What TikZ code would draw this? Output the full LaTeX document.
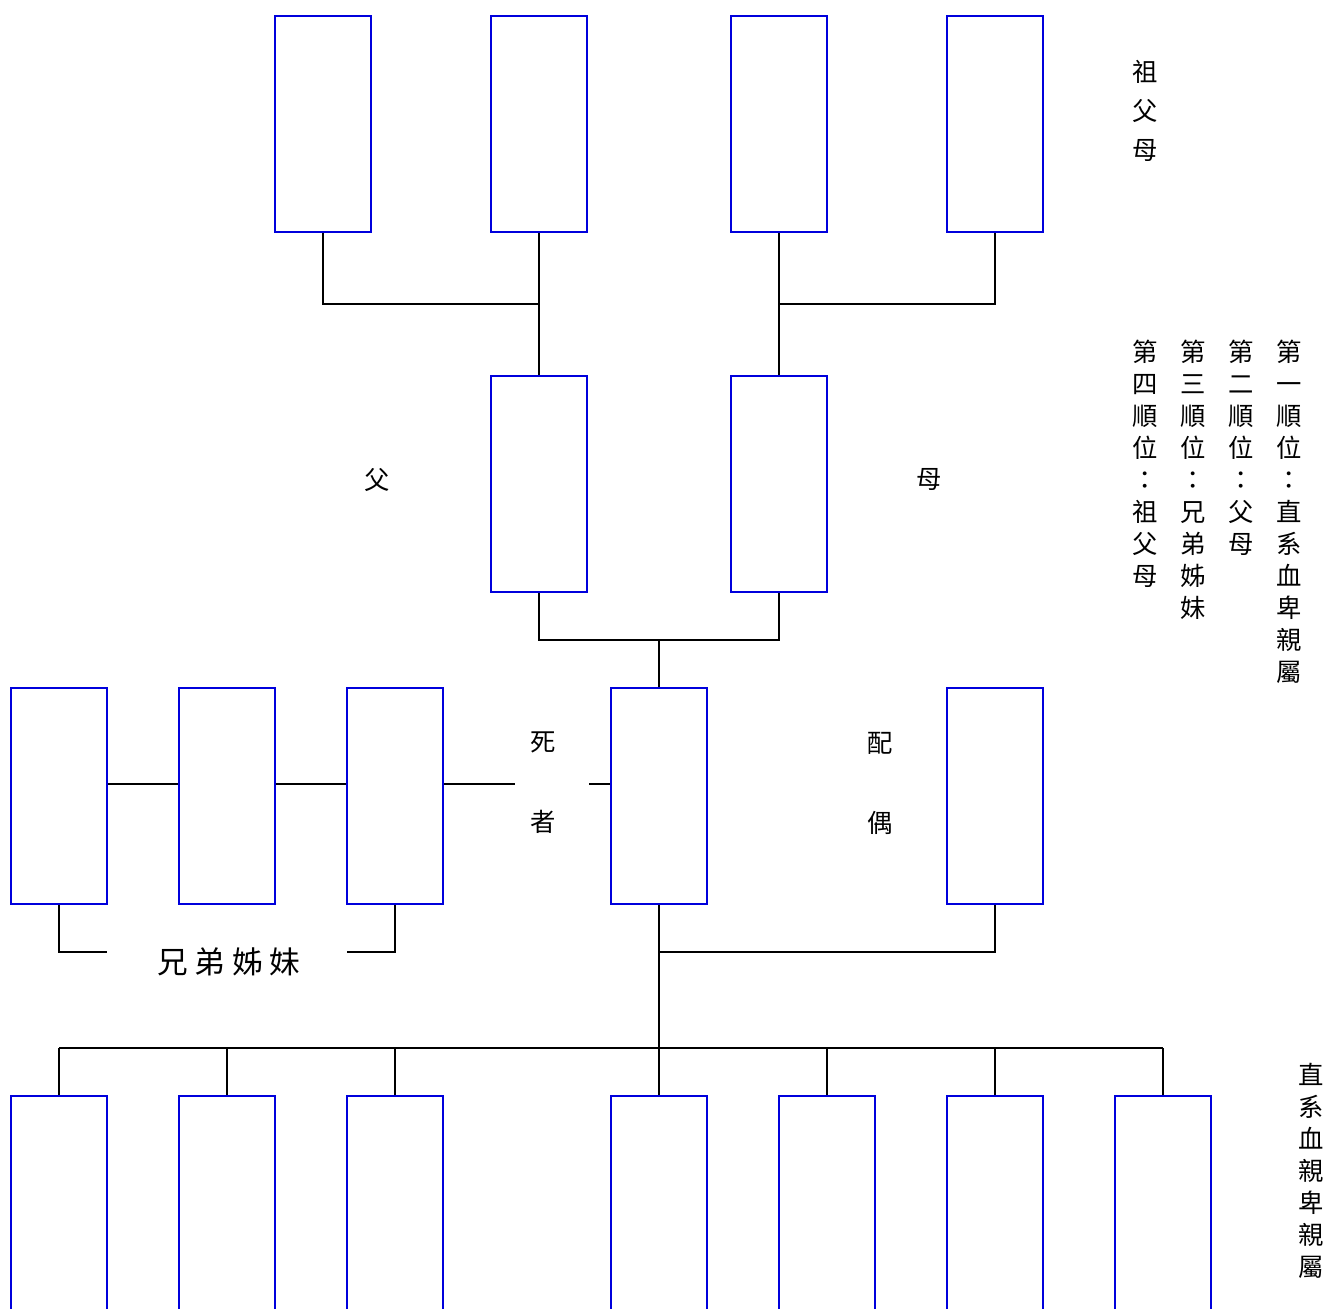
\documentclass[tikz,border=0pt]{standalone}
\usepackage{fontspec}
\newfontfamily\cjk{Noto Sans CJK TC}
\definecolor{boxblue}{RGB}{0,0,220}
\begin{document}
\begin{tikzpicture}[x=0.75pt,y=-0.75pt,
  pbox/.style={draw=boxblue,line width=1.5pt,minimum width=72pt,minimum height=162pt,inner sep=0pt},
  conn/.style={draw=black,line width=1.5pt},
  lbl/.style={font=\cjk\fontsize{19pt}{24pt}\selectfont,inner sep=0pt,align=center},
  lblw/.style={font=\cjk\fontsize{19pt}{29.25pt}\selectfont,inner sep=0pt,align=center},
  lbld/.style={font=\cjk\fontsize{19pt}{60pt}\selectfont,inner sep=0pt,align=center}]
\clip (0,0) rectangle (1329,1309);
\fill[white] (0,0) rectangle (1329,1309);
% grandparents
\node[pbox] (g1) at (323,124) {};
\node[pbox] (g2) at (539,124) {};
\node[pbox] (g3) at (779,124) {};
\node[pbox] (g4) at (995,124) {};
% parents
\node[pbox] (p1) at (539,484) {};
\node[pbox] (p2) at (779,484) {};
% siblings, deceased, spouse
\node[pbox] (s1) at (59,796) {};
\node[pbox] (s2) at (227,796) {};
\node[pbox] (s3) at (395,796) {};
\node[pbox] (dec) at (659,796) {};
\node[pbox] (sp) at (995,796) {};
% children
\node[pbox] (c1) at (59,1204) {};
\node[pbox] (c2) at (227,1204) {};
\node[pbox] (c3) at (395,1204) {};
\node[pbox] (c4) at (659,1204) {};
\node[pbox] (c5) at (827,1204) {};
\node[pbox] (c6) at (995,1204) {};
\node[pbox] (c7) at (1163,1204) {};
% coordinates
\coordinate (j1) at (539,304);
\coordinate (j2) at (779,304);
\coordinate (j3) at (659,640);
\coordinate (ga) at (515,784);
\coordinate (gb) at (589,784);
\coordinate (b1) at (107,952);
\coordinate (b2) at (347,952);
\coordinate (m) at (659,952);
\coordinate (bl) at (59,1048);
\coordinate (br) at (1163,1048);
% connectors
\draw[conn] (g1.south) |- (j1);
\draw[conn] (g2.south) -- (p1.north);
\draw[conn] (g4.south) |- (j2);
\draw[conn] (g3.south) -- (p2.north);
\draw[conn] (p1.south) |- (j3) -| (p2.south);
\draw[conn] (j3) -- (dec.north);
\draw[conn] (s1.east |- ga) -- (s2.west |- ga);
\draw[conn] (s2.east |- ga) -- (s3.west |- ga);
\draw[conn] (s3.east |- ga) -- (ga);
\draw[conn] (gb) -- (dec.west |- gb);
\draw[conn] (s1.south) |- (b1);
\draw[conn] (b2) -| (s3.south);
\draw[conn] (dec.south) -- (c4.north);
\draw[conn] (m) -| (sp.south);
\draw[conn] (bl) -- (br);
\foreach \c in {c1,c2,c3,c5,c6,c7} \draw[conn] (\c.north) -- (\c.north |- bl);
% labels
\node[lbl] (tf) at (377,480) {父};
\node[lbl] (tm) at (929,480) {母};
\node[lbld] (td) at (543,783) {死\\者};
\node[lbld] (ts) at (880,783) {配\\偶};
\node[font=\cjk\fontsize{23pt}{24pt}\selectfont\addfontfeature{LetterSpace=22},inner sep=0pt] (tsib) at (229,962) {兄弟姊妹};
\node[lblw] (tg) at (1145,111) {祖\\父\\母};
\node[lbl] (o1) at (1289,512) {第\\一\\順\\位\\：\\直\\系\\血\\卑\\親\\屬};
\node[lbl] (o2) at (1241,448) {第\\二\\順\\位\\：\\父\\母};
\node[lbl] (o3) at (1193,480) {第\\三\\順\\位\\：\\兄\\弟\\姊\\妹};
\node[lbl] (o4) at (1145,464) {第\\四\\順\\位\\：\\祖\\父\\母};
\node[lbl] (tc) at (1311,1171) {直\\系\\血\\親\\卑\\親\\屬};
\end{tikzpicture}
\end{document}
